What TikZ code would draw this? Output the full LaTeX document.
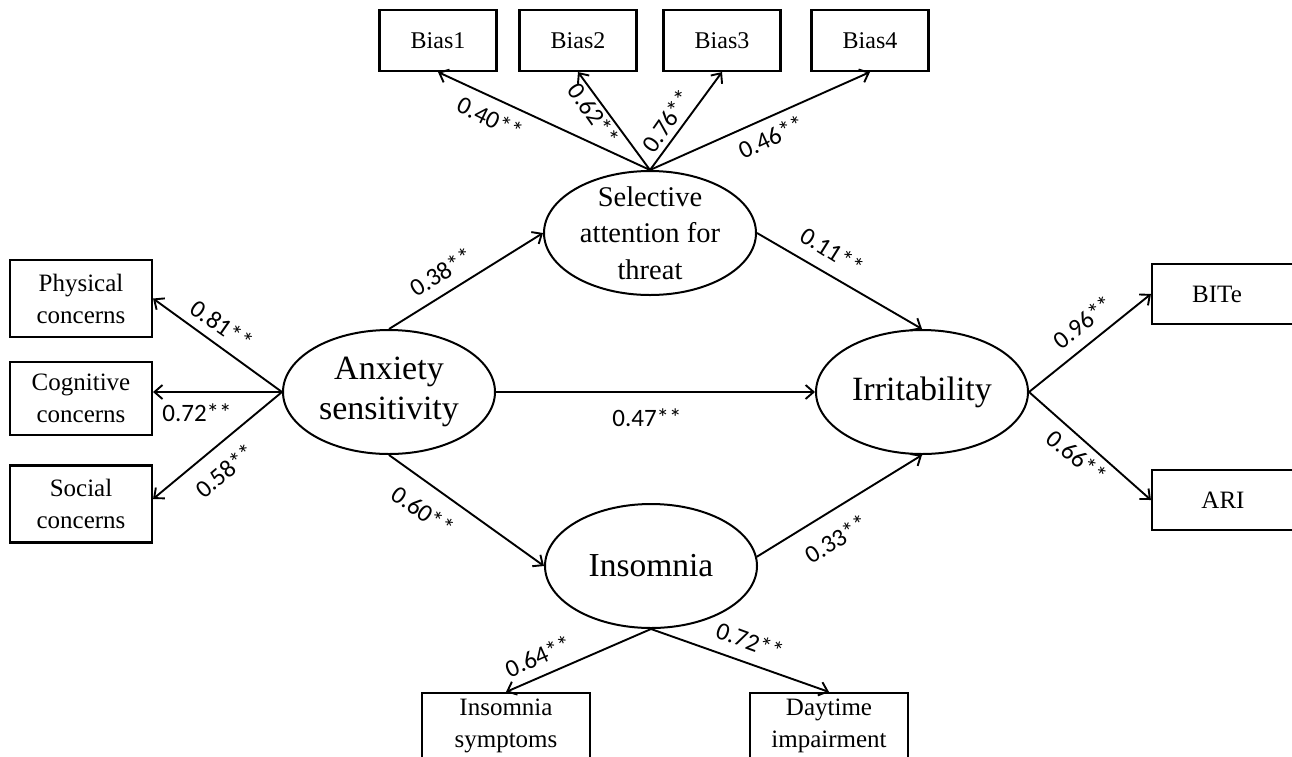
\documentclass[tikz,border=0pt]{standalone}
\usepackage{fontspec}
\setmainfont{Liberation Serif}
\newfontfamily\labfont{Carlito}
\usetikzlibrary{shapes.geometric,arrows.meta}
\begin{document}
\begin{tikzpicture}[x=1pt,y=-1pt,
  box/.style={draw, line width=2.1pt, inner sep=2pt, align=center, font=\fontsize{25}{32}\selectfont},
  biasbox/.style={box, minimum width=117pt, minimum height=61pt, font=\fontsize{24}{30}\selectfont},
  sidebox/.style={box, minimum width=142pt, minimum height=77pt},
  rightbox/.style={box, minimum width=148pt, minimum height=60pt},
  latent/.style={draw, ellipse, line width=2pt, minimum width=212pt, minimum height=124pt, inner sep=0pt, align=center},
  lab/.style={font=\labfont\fontsize{25}{30}\selectfont, inner sep=0pt},
  arr/.style={line width=1.9pt, -{Straight Barb[length=8pt,width=14pt]}}
]
\useasboundingbox (0,0) rectangle (1292,756);

% latent variables
\node[latent, font=\fontsize{28.5}{36.5}\selectfont, inner ysep=-3pt] (sel) at (650,233) {Selective\\attention for\\threat};
\node[latent, font=\fontsize{34}{40}\selectfont] (anx) at (389,392) {Anxiety\\sensitivity};
\node[latent, font=\fontsize{34}{40}\selectfont] (irr) at (922,392) {Irritability};
\node[latent, font=\fontsize{33.5}{40}\selectfont] (ins) at (651,566) {Insomnia};

% indicators
\node[biasbox] (b1) at (438,40.5) {Bias1};
\node[biasbox] (b2) at (578,40.5) {Bias2};
\node[biasbox] (b3) at (722,40.5) {Bias3};
\node[biasbox] (b4) at (870,40.5) {Bias4};

\node[sidebox] (phys) at (81,298.5) {Physical\\concerns};
\node[sidebox, minimum height=73pt] (cog) at (81,398.5) {Cognitive\\concerns};
\node[sidebox] (soc) at (81,504) {Social\\concerns};

\node[rightbox] (bite) at (1226,294) {BITe\hspace{18pt}};
\node[rightbox] (ari) at (1226,500) {ARI\hspace{6pt}};

\node[box, minimum width=168pt, minimum height=65pt] (isym) at (506,725.5) {Insomnia\\symptoms};
\node[box, minimum width=158pt, minimum height=65pt] (day) at (829,725.5) {Daytime\\impairment};

% structural paths
\draw[arr] (anx.north) -- (sel.west);
\draw[arr] (sel.east) -- (irr.north);
\draw[arr] (anx.east) -- (irr.west);
\draw[arr] (anx.south) -- (ins.west);
\draw[arr] (ins.5) -- (irr.south);

% measurement paths
\draw[arr] (sel.north) -- (b1.south);
\draw[arr] (sel.north) -- (b2.south);
\draw[arr] (sel.north) -- (b3.south);
\draw[arr] (sel.north) -- (b4.south);

\draw[arr] (anx.west) -- (phys.east);
\draw[arr] (anx.west) -- (cog.east |- anx.west);
\draw[arr] (anx.west) -- ([yshift=5pt]soc.east);

\draw[arr] (irr.east) -- (bite.west);
\draw[arr] (irr.east) -- (ari.west);

\draw[arr] (ins.south) -- (isym.north);
\draw[arr] (ins.south) -- (day.north);

% coefficients
\node[lab, rotate=32] (l1) at (441,272) {0.38**};
\node[lab, rotate=-32] (l2) at (832,251) {0.11**};
\node[lab] (l3) at (647,418) {0.47**};
\node[lab, rotate=-35] (l4) at (423,511) {0.60**};
\node[lab, rotate=32] (l5) at (836,539) {0.33**};
\node[lab, rotate=-35] (l6) at (222,325) {0.81**};
\node[lab] (l7) at (197,413) {0.72**};
\node[lab, rotate=40] (l8) at (225,471) {0.58**};
\node[lab, rotate=-26] (l9) at (490,118) {0.40**};
\node[lab, rotate=-55] (l10) at (594,114) {0.62**};
\node[lab, rotate=55] (l11) at (667,121) {0.76**};
\node[lab, rotate=25] (l12) at (771,137) {0.46**};
\node[lab, rotate=38] (l13) at (1083,322) {0.96**};
\node[lab, rotate=-40] (l14) at (1077,457) {0.66**};
\node[lab, rotate=24] (l15) at (538,656) {0.64**};
\node[lab, rotate=-20] (l16) at (750,641) {0.72**};
\end{tikzpicture}
\end{document}
